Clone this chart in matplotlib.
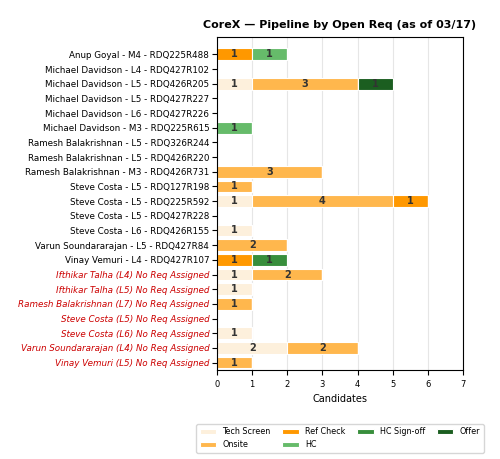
import matplotlib.pyplot as plt
import numpy as np

labels = [
    "Anup Goyal - M4 - RDQ225R488",
    "Michael Davidson - L4 - RDQ427R102",
    "Michael Davidson - L5 - RDQ426R205",
    "Michael Davidson - L5 - RDQ427R227",
    "Michael Davidson - L6 - RDQ427R226",
    "Michael Davidson - M3 - RDQ225R615",
    "Ramesh Balakrishnan - L5 - RDQ326R244",
    "Ramesh Balakrishnan - L5 - RDQ426R220",
    "Ramesh Balakrishnan - M3 - RDQ426R731",
    "Steve Costa - L5 - RDQ127R198",
    "Steve Costa - L5 - RDQ225R592",
    "Steve Costa - L5 - RDQ427R228",
    "Steve Costa - L6 - RDQ426R155",
    "Varun Soundararajan - L5 - RDQ427R84",
    "Vinay Vemuri - L4 - RDQ427R107",
    "Ifthikar Talha (L4) No Req Assigned",
    "Ifthikar Talha (L5) No Req Assigned",
    "Ramesh Balakrishnan (L7) No Req Assigned",
    "Steve Costa (L5) No Req Assigned",
    "Steve Costa (L6) No Req Assigned",
    "Varun Soundararajan (L4) No Req Assigned",
    "Vinay Vemuri (L5) No Req Assigned",
]
stages = ["Tech Screen", "Onsite", "Ref Check", "HC", "HC Sign-off", "Offer"]
colors = ["#fdf0dc", "#ffb74d", "#ff9800", "#66bb6a", "#388e3c", "#1b5e20"]

tech_screen = [0, 0, 1, 0, 0, 0, 0, 0, 0, 0, 1, 0, 1, 0, 0, 1, 1, 0, 0, 1, 2, 0]
onsite      = [0, 0, 3, 0, 0, 0, 0, 0, 3, 1, 4, 0, 0, 2, 0, 2, 0, 1, 0, 0, 2, 1]
ref_check   = [1, 0, 0, 0, 0, 0, 0, 0, 0, 0, 1, 0, 0, 0, 1, 0, 0, 0, 0, 0, 0, 0]
hc          = [1, 0, 0, 0, 0, 1, 0, 0, 0, 0, 0, 0, 0, 0, 0, 0, 0, 0, 0, 0, 0, 0]
hc_signoff  = [0, 0, 0, 0, 0, 0, 0, 0, 0, 0, 0, 0, 0, 0, 1, 0, 0, 0, 0, 0, 0, 0]
offer       = [0, 0, 1, 0, 0, 0, 0, 0, 0, 0, 0, 0, 0, 0, 0, 0, 0, 0, 0, 0, 0, 0]
series = [tech_screen, onsite, ref_check, hc, hc_signoff, offer]

fig = plt.figure(figsize=(5, 4.59), dpi=100)
ax = fig.add_axes([0.434, 0.194, 0.492, 0.726])
y = np.arange(len(labels))
left = np.zeros(len(labels))
for name, vals, c in zip(stages, series, colors):
    vals = np.array(vals, dtype=float)
    ax.barh(y, vals, left=left, color=c, edgecolor="white", linewidth=0.8,
            height=0.8, label=name, zorder=2)
    for yi, (l, v) in enumerate(zip(left, vals)):
        if v > 0:
            ax.text(l + v / 2, yi, f"{int(v)}", ha="center", va="center",
                    fontsize=7, fontweight="bold", color="#333333", zorder=3)
    left += vals

ax.set_yticks(y)
ax.set_yticklabels(labels, fontsize=6.3)
for t in ax.get_yticklabels():
    if "No Req" in t.get_text():
        t.set_color("#cc0000")
        t.set_style("italic")
ax.invert_yaxis()
ax.set_ylim(len(labels) - 0.5, -1.2)
ax.set_xlim(0, 7)
ax.set_xticks(range(8))
ax.tick_params(axis="x", labelsize=6)
ax.tick_params(axis="y", pad=2)
ax.set_xlabel("Candidates", fontsize=7)
ax.grid(axis="x", color="#e6e6e6", zorder=0)
ax.set_title("CoreX — Pipeline by Open Req (as of 03/17)", fontsize=8,
             fontweight="bold")
fig.legend(loc="lower center", bbox_to_anchor=(0.68, 0.005), ncol=4,
           fontsize=5.8, frameon=True, columnspacing=1.5)
fig.savefig("out.png", dpi=100)
